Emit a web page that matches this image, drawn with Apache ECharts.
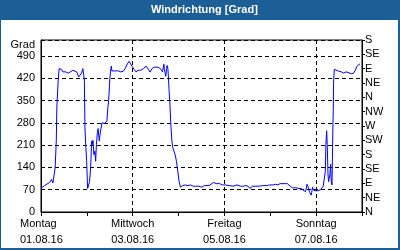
<!DOCTYPE html>
<html>
<head>
<meta charset="utf-8">
<script src="https://cdn.jsdelivr.net/npm/echarts@6/dist/echarts.min.js"></script>
<style>
  html, body { margin: 0; padding: 0; }
  #chart { width: 400px; height: 250px; }
</style>
</head>
<body>
<div id="chart"></div>
<script>
  // Stunden ab Montag 01.08.16 00:00
  var hours = [
    0, 1.8, 3.0, 4.5, 5.5, 6.2, 7.2, 7.4, 8.0, 8.3, 9.0, 9.5, 10.6, 11.4, 12.9, 14.3, 15.3, 16.7, 17.7, 18.8,
    19.7, 20.6, 21.2, 21.9, 22.3, 22.7, 23.0, 23.3, 23.9, 24.4, 24.9, 25.4, 26.0, 26.5, 26.9, 27.2, 27.7, 28.2, 28.6,
    29.0, 29.5, 29.9, 30.5, 30.8, 31.4, 31.9, 32.6, 33.3, 34.0, 34.5, 35.0, 35.4, 35.8, 36.1, 36.6, 36.8, 37.1,
    38.7, 40.5, 41.7, 43.1, 44.0, 45.2, 46.1, 46.6, 47.6, 48.7, 49.7, 50.8, 52.2, 53.6, 55.0, 56.2, 57.1, 58.0,
    59.4, 60.4, 61.5, 62.2, 62.8, 63.6, 64.3, 64.6, 65.3, 65.7, 66.0, 66.4, 66.7, 67.0, 67.4, 67.9, 68.5, 69.0,
    69.5, 70.2, 70.9, 71.6, 72.3, 73.0, 74.1, 75.4, 76.9, 78.3, 79.6, 81.0, 82.4, 84.2, 85.6, 86.6, 88.0, 88.9,
    90.3, 91.7, 93.5, 94.9, 96.6, 98.4, 100.5, 102.6, 104.4, 105.8, 107.2, 108.4, 109.3, 110.0, 110.7, 112.5,
    114.2, 116.0, 117.0, 118.4, 119.5, 120.5, 121.5, 122.6, 123.3, 124.0, 125.1, 125.8, 127.2, 127.9, 128.9,
    129.8, 131.5, 133.3, 135.0, 136.1, 136.8, 137.3, 137.8, 138.5, 139.2, 139.9, 140.3, 141.0, 141.4, 141.7,
    142.1, 142.7, 143.5, 144.5, 145.2, 146.3, 147.0, 147.7, 148.4, 148.8, 149.1, 149.5, 149.8, 150.2, 150.5,
    150.9, 151.2, 151.6, 151.9, 152.3, 152.6, 152.8, 153.0, 153.1, 153.5, 154.4, 155.8, 157.2, 158.3, 159.3,
    159.7, 160.7, 162.5, 163.6, 164.6, 165.3, 166.4, 167.0
  ];
  var degrees = [
    74, 83, 87, 93, 102, 91, 91, 138, 223, 329, 414, 450, 448, 440, 440, 436, 440, 445, 439, 439,
    424, 421, 436, 450, 453, 414, 266, 223, 159, 74, 72, 95, 140, 223, 212, 225, 180, 191, 159,
    212, 250, 262, 223, 240, 263, 280, 284, 278, 278, 286, 329, 350, 392, 424, 450, 458, 443,
    443, 443, 440, 442, 450, 465, 473, 467, 458, 448, 440, 445, 445, 450, 458, 448, 439, 450,
    455, 450, 454, 460, 448, 440, 464, 448, 426, 450, 460, 450, 424, 384, 347, 280, 223, 202,
    206, 180, 159, 127, 95, 78, 83, 85, 83, 85, 81, 81, 81, 78, 83, 78, 83, 81,
    93, 89, 89, 85, 85, 83, 81, 85, 81, 81, 83, 81, 74, 68, 81, 81,
    81, 83, 87, 83, 85, 83, 85, 87, 89, 85, 89, 85, 89, 87, 89,
    83, 76, 76, 74, 74, 78, 68, 74, 64, 87, 78, 66, 66, 53, 62,
    78, 68, 72, 66, 68, 70, 74, 81, 85, 127, 212, 255, 212, 119, 95,
    95, 119, 150, 95, 85, 202, 280, 329, 403, 448, 446, 442, 440, 436, 439,
    440, 434, 434, 436, 446, 457, 463, 465
  ];

  var dayNames = ['Montag', 'Mittwoch', 'Freitag', 'Sonntag'];
  var dayDates = ['01.08.16', '03.08.16', '05.08.16', '07.08.16'];
  var compass = ['N', 'NE', 'E', 'SE', 'S', 'SW', 'W', 'NW', 'N', 'NE', 'E', 'SE', 'S'];

  var font = 'Liberation Sans, Arial, sans-serif';
  var dashed = { color: '#000', width: 1, type: [4, 3] };

  var chart = echarts.init(document.getElementById('chart'));
  chart.setOption({
    animation: false,
    backgroundColor: '#1c5f96',
    textStyle: { fontFamily: font },
    title: {
      text: 'Windrichtung [Grad]',
      left: 151,
      top: 4,
      padding: 0,
      textStyle: { color: '#fff', fontSize: 11, fontWeight: 'bold', fontFamily: font }
    },
    graphic: [{
      type: 'rect',
      z: -1,
      silent: true,
      shape: { x: 1, y: 20, width: 397, height: 228 },
      style: { fill: '#fff' }
    }],
    grid: {
      left: 41, right: 38, top: 40, bottom: 38,
      show: true, borderColor: '#000', borderWidth: 1
    },
    xAxis: {
      type: 'value',
      min: 0, max: 168, interval: 48,
      axisLine: { lineStyle: { color: '#000' } },
      axisTick: { length: 4, lineStyle: { color: '#000' } },
      minorTick: { show: true, splitNumber: 2, length: 4, lineStyle: { color: '#000' } },
      splitLine: { show: true, lineStyle: dashed },
      axisLabel: {
        margin: 4,
        color: '#000',
        fontSize: 11,
        lineHeight: 16,
        showMaxLabel: false,
        formatter: function (v) {
          var i = Math.round(v / 48);
          if (v % 48 !== 0 || i >= dayNames.length) return '';
          if (i === 0) return '{l|' + dayNames[i] + '}\n{l|' + dayDates[i] + '}';
          return dayNames[i] + '\n' + dayDates[i];
        },
        rich: { l: { width: 42, align: 'left', fontSize: 11, lineHeight: 16, color: '#000' } }
      }
    },
    yAxis: [{
      type: 'value',
      min: 0, max: 540, interval: 70,
      name: 'Grad',
      nameLocation: 'end',
      nameGap: -6,
      nameTextStyle: { color: '#000', fontSize: 11, align: 'right', verticalAlign: 'middle', padding: [0, 6, 0, 0] },
      axisLine: { show: true, lineStyle: { color: '#000' } },
      axisTick: { show: false },
      splitLine: { show: true, lineStyle: dashed },
      axisLabel: {
        margin: 6, color: '#000', fontSize: 11,
        formatter: function (v) { return v > 490 ? '' : String(v); }
      }
    }, {
      type: 'value',
      position: 'right',
      min: 0, max: 540, interval: 45,
      axisLine: { show: true, lineStyle: { color: '#000' } },
      axisTick: { show: true, length: 3, lineStyle: { color: '#000' } },
      splitLine: { show: false },
      axisLabel: {
        margin: 3, color: '#000', fontSize: 11,
        formatter: function (v) { return compass[Math.round(v / 45)]; }
      }
    }],
    series: [{
      type: 'line',
      yAxisIndex: 0,
      showSymbol: false,
      symbol: 'none',
      lineStyle: { color: '#0000ff', width: 1 },
      data: hours.map(function (h, i) { return [h, degrees[i]]; })
    }]
  });
</script>
</body>
</html>
